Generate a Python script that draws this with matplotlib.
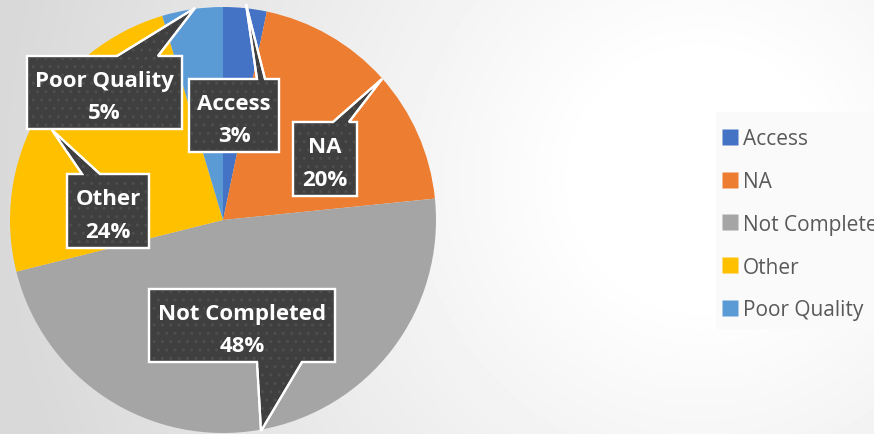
import numpy as np
import matplotlib
matplotlib.use("Agg")
import matplotlib.pyplot as plt
from matplotlib.patches import Polygon, Rectangle
from matplotlib.lines import Line2D

categories = ["Access", "NA", "Not Completed", "Other", "Poor Quality"]
values = [3.3, 20.1, 47.7, 24.3, 4.6]
colors = ["#4472C4", "#ED7D31", "#A5A5A5", "#FFC000", "#5B9BD5"]

W, H = 874, 435
fig = plt.figure(figsize=(W / 100, H / 100), dpi=100)

# background radial gradient
bg = fig.add_axes([0, 0, 1, 1], zorder=0)
yy, xx = np.mgrid[0:H, 0:W]
d = np.sqrt((xx - 700) ** 2 + ((yy - 180) * 1.0) ** 2)
t = np.clip((d - 120) / 580, 0, 1)
v = 1.0 - t * (1.0 - 0.85)
bg.imshow(v, cmap="gray", vmin=0, vmax=1, extent=[0, W, H, 0], aspect="auto", interpolation="bilinear")
bg.set_axis_off()

# pie
cx, cy, R = 223, 221, 213
ax = fig.add_axes([(cx - R) / W, (H - cy - R) / H, 2 * R / W, 2 * R / H], zorder=1)
ax.pie(values, colors=colors, startangle=90, counterclock=False, radius=1,
       wedgeprops=dict(linewidth=0))
ax.set_xlim(-1, 1)
ax.set_ylim(-1, 1)
ax.set_aspect("auto")
ax.set_axis_off()

# overlay in pixel coords for callouts and legend
ov = fig.add_axes([0, 0, 1, 1], zorder=2)
ov.set_xlim(0, W)
ov.set_ylim(H, 0)
ov.set_axis_off()

total = sum(values)
# box (x0, y0, x1, y1), pointer side, base a, base b, tip
callouts = {
    "Access": ((189, 80, 279, 153), "top", 257, 265, (246, 5)),
    "NA": ((293, 123, 357, 197), "top", 333, 349, (382, 80)),
    "Not Completed": ((149, 290, 335, 363), "bottom", 257, 302, (261, 432)),
    "Other": ((67, 175, 149, 249), "top", 82, 100, (52, 131)),
    "Poor Quality": ((27, 57, 182, 130), "top", 117, 158, (195, 9)),
}

for cat, val in zip(categories, values):
    (x0, y0, x1, y1), side, ba, bb, tip = callouts[cat]
    if side == "top":
        pts = [(x0, y0), (ba, y0), tip, (bb, y0), (x1, y0), (x1, y1), (x0, y1)]
    else:
        pts = [(x0, y0), (x1, y0), (x1, y1), (bb, y1), tip, (ba, y1), (x0, y1)]
    ov.add_patch(Polygon(pts, closed=True, facecolor="#3f3f3f", edgecolor="white",
                         linewidth=1.6, joinstyle="miter", zorder=3))
    ov.add_patch(Polygon(pts, closed=True, facecolor="none", edgecolor="#4e4e4e",
                         linewidth=0, hatch="..", zorder=3.5))
    ov.add_patch(Polygon(pts, closed=True, facecolor="none", edgecolor="white",
                         linewidth=1.6, joinstyle="miter", zorder=3.6))
    pct = f"{round(val / total * 100):d}%"
    ov.text((x0 + x1) / 2, (y0 + y1) / 2 + 4, f"{cat}\n{pct}", ha="center", va="center",
            color="white", fontsize=16, fontweight="bold", family="Open Sans",
            linespacing=1.7, zorder=4)

# legend
ov.add_patch(Rectangle((716, 113), 200, 217, facecolor="#fafafa", edgecolor="none", zorder=2))
handles = [Line2D([], [], marker="s", linestyle="none", markersize=11,
                  markerfacecolor=c, markeredgecolor="none") for c in colors]
leg = ov.legend(handles, categories, loc="upper left",
                bbox_to_anchor=(724 / W, 1 - 129 / H), frameon=False,
                prop=dict(family="Open Sans", size=15), labelcolor="#595959",
                handlelength=0.6, handletextpad=0.3, labelspacing=1.05,
                borderaxespad=0, borderpad=0)
leg.set_zorder(5)

fig.savefig("out.png", dpi=100)
